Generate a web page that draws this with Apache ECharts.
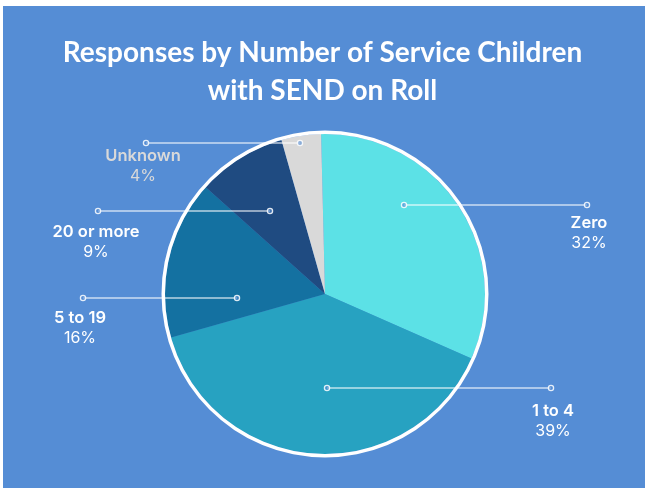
<!DOCTYPE html>
<html>
<head>
<meta charset="utf-8">
<script src="https://cdn.jsdelivr.net/npm/echarts@6/dist/echarts.min.js"></script>
<style>
  html, body { margin: 0; padding: 0; background: #ffffff; }
  #chart { width: 645px; height: 488px; }
</style>
</head>
<body>
<div id="chart"></div>
<script>
// Survey responses grouped by number of Service children with SEND on roll
const categories = ['Zero', '1 to 4', '5 to 19', '20 or more', 'Unknown'];
const shares = [32, 39, 16, 9, 4];
const sliceColors = ['#5CE1E6', '#27A2C1', '#1471A1', '#1F4B81', '#D9D9D9'];
const labelColors = ['#ffffff', '#ffffff', '#ffffff', '#ffffff', '#D9D9D9'];

// Leader lines per slice: [inner x, inner y, outer x, outer y]
const leaders = [
  [404, 205, 587, 205],
  [327, 388, 551, 388],
  [237, 298, 83, 298],
  [270, 211, 98, 211],
  [300, 143, 146, 143]
];
// Label block anchor per slice: [centre x, top y]
const labelAnchors = [
  [589, 213],
  [553, 401],
  [80, 308],
  [96, 222],
  [143, 146]
];

const CENTER = [325, 294];
const R = 160;

const chart = echarts.init(document.getElementById('chart'), null, { renderer: 'canvas' });

const leaderGraphics = [];
leaders.forEach(function (l) {
  leaderGraphics.push({
    type: 'line',
    shape: { x1: l[0], y1: l[1], x2: l[2], y2: l[3] },
    style: { stroke: 'rgba(255,255,255,0.7)', lineWidth: 1.5 },
    z: 100
  });
  [[l[0], l[1]], [l[2], l[3]]].forEach(function (p) {
    leaderGraphics.push({
      type: 'circle',
      shape: { cx: p[0], cy: p[1], r: 2.6 },
      style: { fill: 'rgba(85,141,213,0.6)', stroke: 'rgba(255,255,255,0.85)', lineWidth: 1.3 },
      z: 101
    });
  });
});

chart.setOption({
  backgroundColor: '#ffffff',
  animation: false,
  title: {
    text: 'Responses by Number of Service Children\nwith SEND on Roll',
    left: 'center',
    top: 29,
    textStyle: {
      color: '#ffffff',
      fontFamily: 'Lato, sans-serif',
      fontWeight: 'bold',
      fontSize: 28,
      lineHeight: 38
    }
  },
  graphic: [
    {
      type: 'rect',
      shape: { x: 3, y: 6, width: 642, height: 482 },
      style: { fill: '#558DD5' },
      z: -10
    }
  ].concat(leaderGraphics),
  series: [
    {
      type: 'pie',
      center: CENTER,
      radius: [R, R + 3.5],
      silent: true,
      label: { show: false },
      labelLine: { show: false },
      itemStyle: { color: '#ffffff' },
      data: [{ value: 1, name: 'ring' }],
      z: 3
    },
    {
      type: 'pie',
      center: CENTER,
      radius: [0, R],
      startAngle: 91.4,
      clockwise: true,
      percentPrecision: 0,
      itemStyle: { borderWidth: 0 },
      data: categories.map(function (c, i) {
        return {
          name: c,
          value: shares[i],
          itemStyle: { color: sliceColors[i] },
          label: {
            rich: {
              n: { color: labelColors[i], fontFamily: 'Inter', fontWeight: 600, fontSize: 16.5, lineHeight: 20, align: 'center' },
              p: { color: labelColors[i], fontFamily: 'Inter', fontWeight: 400, fontSize: 16, lineHeight: 21, align: 'center' }
            }
          }
        };
      }),
      label: {
        show: true,
        position: 'outside',
        formatter: '{n|{b}}\n{p|{d}%}'
      },
      labelLine: { show: false },
      labelLayout: function (params) {
        const a = labelAnchors[params.dataIndex];
        return { x: a[0], y: a[1], align: 'center', verticalAlign: 'top' };
      },
      z: 2
    }
  ]
});
</script>
</body>
</html>
